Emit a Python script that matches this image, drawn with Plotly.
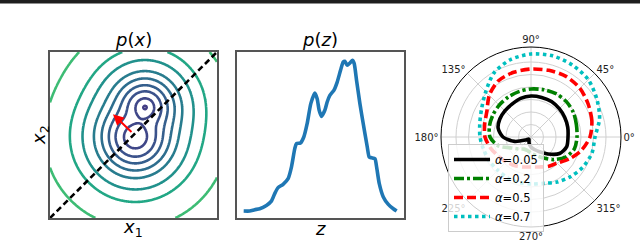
import numpy as np
import plotly.graph_objects as go

# ---------------- data ----------------
# p(x): two mixture components (data units on [0,1]^2)
comp_cx = [0.511, 0.569]
comp_cy = [0.487, 0.667]
comp_core = [0.068, 0.024]
comp_scale = [0.0401, 0.0401]
comp_logw = [0.93, 0.0]
# contour levels (-log density), innermost first, with their line colours
contour_levels = [0.62, 1.45, 2.45, 3.35, 4.35, 5.45, 7.1, 8.95, 12.7]
contour_colors = ["#433e85", "#3f4788", "#3b528b", "#355f8d", "#2e6e8e",
                  "#287c8e", "#21918c", "#22a785", "#3dbc74"]

# projection direction and arrow (data units)
diag_x = [0.0, 1.0]
diag_y = [0.0, 1.0]
arrow_tail = (0.497, 0.51)
arrow_head = (0.377, 0.625)

# p(z) curve
z_vals = [0.40, 0.76, 1.06, 1.36, 1.76, 2.06, 2.26, 2.46, 2.76, 3.06, 3.26, 3.46, 3.56,
          3.80, 4.00, 4.20, 4.42, 4.66, 4.80, 4.92, 5.06, 5.26, 5.40, 5.56, 5.80, 6.00,
          6.20, 6.36, 6.46, 6.60, 6.76, 6.92, 7.02, 7.16, 7.36, 7.56, 7.80, 7.92, 8.06,
          8.26, 8.36, 8.52, 8.76, 9.06, 9.36, 9.56]
pz_vals = [0.042, 0.042, 0.050, 0.056, 0.076, 0.102, 0.147, 0.183, 0.203, 0.237, 0.307,
           0.418, 0.448, 0.452, 0.488, 0.568, 0.689, 0.753, 0.719, 0.649, 0.612, 0.649,
           0.699, 0.739, 0.769, 0.819, 0.890, 0.940, 0.944, 0.920, 0.934, 0.950, 0.930,
           0.829, 0.689, 0.568, 0.428, 0.367, 0.363, 0.357, 0.307, 0.207, 0.127, 0.082,
           0.056, 0.042]

# polar curves
theta_deg = list(range(0, 360, 15))
r_a005 = [37, 38, 39, 40, 41, 41, 41, 40, 38, 37, 36, 34, 28, 17, 6, 3, 4, 7, 10, 13, 17, 24, 33, 37]
r_a02 = [46, 47, 49, 50, 50, 49, 48, 47, 46, 45, 44, 43, 41, 34, 22, 17, 14, 14, 16, 19, 24, 32, 40, 45]
r_a05 = [59, 63, 66, 69, 70, 69, 68, 67, 65, 59, 51, 48, 46, 42, 38, 35, 33, 31, 30, 31, 34, 37, 44, 52]
r_a07 = [64, 71, 76, 81, 83, 84, 83, 80, 74, 64, 57, 53, 51, 49, 48, 47, 47, 47, 47, 48, 52, 56, 60, 63]
series_names = ["<i>α</i>=0.05", "<i>α</i>=0.2", "<i>α</i>=0.5", "<i>α</i>=0.7"]
angle_ticks = [0, 45, 90, 135, 180, 225, 270, 315]
angle_labels = ["0°", "45°", "90°", "135°", "180°", "225°", "270°", "315°"]
radial_ticks = [12.5, 25, 37.5, 50, 62.5, 75]

# ---------------- build ----------------
FONT = "DejaVu Sans"
W, H = 640, 240

gx = np.linspace(0, 1, 200)
gy = np.linspace(0, 1, 200)
X, Y = np.meshgrid(gx, gy)
terms = []
for cx, cy, c, s, lw in zip(comp_cx, comp_cy, comp_core, comp_scale, comp_logw):
    d = np.sqrt((X - cx) ** 2 + (Y - cy) ** 2 + c ** 2)
    terms.append(lw - d / s)
T = np.stack(terms)
m = T.max(axis=0)
P = np.round(-(m + np.log(np.exp(T - m).sum(axis=0))), 4)

fig = go.Figure()

for lev, col in zip(contour_levels, contour_colors):
    fig.add_trace(go.Contour(
        x=gx, y=gy, z=P, xaxis="x", yaxis="y",
        contours=dict(coloring="lines", start=lev, end=lev, size=1),
        colorscale=[[0, col], [1, col]],
        line=dict(width=2.6, smoothing=1.0), showscale=False, showlegend=False,
        hoverinfo="skip"))

fig.add_trace(go.Scatter(x=diag_x, y=diag_y, mode="lines", xaxis="x", yaxis="y",
                         line=dict(color="black", width=2.6, dash="6px,3.5px"),
                         showlegend=False))

fig.add_annotation(x=arrow_head[0], y=arrow_head[1], ax=arrow_tail[0], ay=arrow_tail[1],
                   xref="x", yref="y", axref="x", ayref="y", showarrow=True,
                   arrowhead=2, arrowsize=1.1, arrowwidth=2, arrowcolor="red", text="")

fig.add_trace(go.Scatter(x=z_vals, y=pz_vals, mode="lines", xaxis="x2", yaxis="y2",
                         line=dict(color="#1f77b4", width=3.6, shape="spline", smoothing=0.6),
                         showlegend=False))

styles = [("black", None), ("green", "10px,3px,3px,3px"), ("red", "9px,4px"), ("#00bfbf", "3.5px,3.5px")]
for name, rv, (col, dash) in zip(series_names, [r_a005, r_a02, r_a05, r_a07], styles):
    fig.add_trace(go.Scatterpolar(
        r=rv + [rv[0]], theta=theta_deg + [theta_deg[0] + 360], mode="lines", name=name,
        line=dict(color=col, width=3.6, dash=dash, shape="spline", smoothing=0.8),
        subplot="polar"))

frame = dict(showline=True, mirror=True, linecolor="#555555", linewidth=1.5,
             showgrid=False, zeroline=False, showticklabels=False, ticks="")
y0, y1 = (H - 218) / H, (H - 52) / H
fig.update_layout(
    width=W, height=H, margin=dict(l=0, r=0, t=0, b=0),
    paper_bgcolor="white", plot_bgcolor="white",
    font=dict(family=FONT, color="black"),
    xaxis=dict(domain=[50 / W, 217 / W], range=[0, 1], **frame),
    yaxis=dict(domain=[y0, y1], range=[0, 1], **frame),
    xaxis2=dict(domain=[237 / W, 404 / W], range=[0, 10], anchor="y2", **frame),
    yaxis2=dict(domain=[y0, y1], range=[0, 1], anchor="x2", **frame),
    polar=dict(
        domain=dict(x=[441 / W, 621 / W], y=[13 / H, 193 / H]),
        bgcolor="white",
        angularaxis=dict(rotation=0, direction="counterclockwise", tickvals=angle_ticks,
                         ticktext=angle_labels, ticks="", showline=True, linecolor="black",
                         linewidth=1, gridcolor="#d0d0d0", gridwidth=1,
                         tickfont=dict(size=10, family=FONT, color="#222")),
        radialaxis=dict(range=[0, 90], tickvals=radial_ticks, showticklabels=False,
                        ticks="", showline=False, gridcolor="#d0d0d0", gridwidth=1),
    ),
    legend=dict(x=448 / W, y=(H - 144) / H, xanchor="left", yanchor="top",
                bgcolor="rgba(255,255,255,0.8)", bordercolor="#cccccc", borderwidth=1,
                font=dict(size=11.5, family=FONT), itemwidth=36, tracegroupgap=0),
    showlegend=True,
)

def label(text, x, y, size=18, angle=0):
    fig.add_annotation(text=text, x=x / W, y=(H - y) / H, xref="paper", yref="paper",
                       xanchor="center", yanchor="middle",
                       showarrow=False, textangle=angle,
                       font=dict(size=size, family=FONT, color="black"))

label("<i>p</i>(<i>x</i>)", 133, 40)
label("<i>p</i>(<i>z</i>)", 320, 40)
label("<i>x</i><sub>1</sub>", 133, 228)
label("<i>x</i><sub>2</sub>", 40, 135, angle=-90)
label("<i>z</i>", 320, 228)

fig.add_shape(type="line", xref="paper", yref="paper", x0=0, x1=1,
              y0=(H - 1.7) / H, y1=(H - 1.7) / H, line=dict(color="#1e1e1e", width=3.4),
              layer="above")

fig.write_html("out.html", config={"displayModeBar": False},
               post_script="document.body.style.margin='0';document.body.style.padding='0';"
                           "document.body.style.overflow='hidden';")
